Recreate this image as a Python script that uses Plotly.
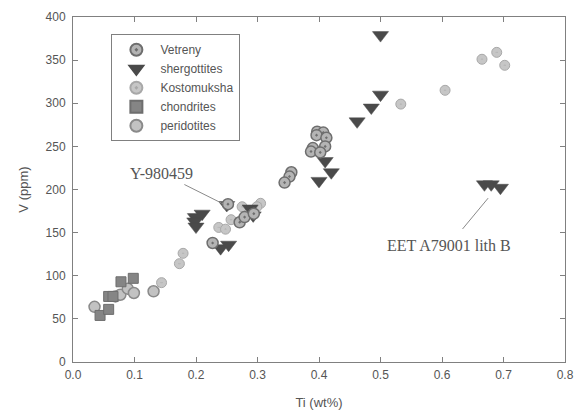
import plotly.graph_objects as go

# Vetreny
vet_ti = [0.397, 0.407, 0.396, 0.412, 0.410, 0.390, 0.387, 0.402, 0.355, 0.352, 0.344,
          0.227, 0.252, 0.271, 0.279, 0.294]
vet_v = [267, 266, 263, 260, 250, 248, 244, 243, 220, 215, 208,
         138, 183, 162, 168, 172]
# shergottites
she_ti = [0.500, 0.500, 0.485, 0.462, 0.410, 0.420, 0.400, 0.669, 0.680, 0.695,
          0.199, 0.210, 0.198, 0.200, 0.240, 0.253, 0.250, 0.293, 0.288]
she_v = [379, 310, 295, 279, 233, 220, 210, 206, 206, 202,
         168, 172, 163, 157, 132, 136, 182, 170, 178]
# Kostomuksha
kos_ti = [0.665, 0.689, 0.702, 0.605, 0.533, 0.144, 0.173, 0.179, 0.237, 0.248,
          0.257, 0.275, 0.305, 0.299]
kos_v = [351, 359, 344, 315, 299, 92, 114, 126, 156, 154,
         165, 180, 184, 180]
# chondrites
cho_ti = [0.044, 0.058, 0.058, 0.065, 0.078, 0.098]
cho_v = [54, 61, 76, 76, 93, 97]
# peridotites
per_ti = [0.035, 0.069, 0.077, 0.089, 0.099, 0.131]
per_v = [64, 76, 78, 85, 80, 82]

x_ticks = [0.0, 0.1, 0.2, 0.3, 0.4, 0.5, 0.6, 0.7, 0.8]
x_labels = ["0.0", "0.1", "0.2", "0.3", "0.4", "0.5", "0.6", "0.7", "0.8"]
y_ticks = [0, 50, 100, 150, 200, 250, 300, 350, 400]

fig = go.Figure()
fig.add_trace(go.Scatter(x=per_ti, y=per_v, mode="markers", name="peridotites",
                         marker=dict(symbol="circle", size=11, color="#c2c2c2",
                                     line=dict(color="#8a8a8a", width=1.5))))
fig.add_trace(go.Scatter(x=cho_ti, y=cho_v, mode="markers", name="chondrites",
                         marker=dict(symbol="square", size=10, color="#858585",
                                     line=dict(color="#6e6e6e", width=1))))
fig.add_trace(go.Scatter(x=kos_ti, y=kos_v, mode="markers", name="Kostomuksha",
                         marker=dict(symbol="circle-dot", size=10, color="#c6c6c6",
                                     line=dict(color="#a8a8a8", width=1))))
fig.add_trace(go.Scatter(x=she_ti, y=she_v, mode="markers", name="shergottites",
                         marker=dict(symbol="triangle-down", size=14, color="#4a4a4a",
                                     line=dict(color="#4a4a4a", width=0.5))))
fig.add_trace(go.Scatter(x=vet_ti, y=vet_v, mode="markers", name="Vetreny",
                         marker=dict(symbol="circle-dot", size=11, color="#b4b4b4",
                                     line=dict(color="#6e6e6e", width=1.5))))

axis_common = dict(showline=True, linecolor="#808080", linewidth=1, mirror="ticks",
                   ticks="inside", ticklen=5, tickcolor="#808080", showgrid=False,
                   zeroline=False, automargin=False,
                   tickfont=dict(family="Arial, Liberation Sans", size=12, color="#555555"))

fig.update_layout(
    width=574, height=412,
    margin=dict(l=73, r=9, t=17, b=50),
    paper_bgcolor="white", plot_bgcolor="white",
    font=dict(family="Arial, Liberation Sans", color="#555555"),
    xaxis=dict(range=[0, 0.8], tickvals=x_ticks, ticktext=x_labels, ticklabelstandoff=2,
               title=dict(text="Ti (wt%)", font=dict(size=13, color="#555555"), standoff=16),
               **axis_common),
    yaxis=dict(range=[0, 400], tickvals=y_ticks, ticklabelstandoff=4,
               title=dict(text="V (ppm)", font=dict(size=13, color="#555555"), standoff=14),
               **axis_common),
    legend=dict(x=0.078, y=0.95, xanchor="left", yanchor="top",
                traceorder="reversed", bordercolor="#808080", borderwidth=1,
                bgcolor="white", font=dict(size=12, color="#555555"),
                itemsizing="constant", tracegroupgap=0, itemwidth=38),
    showlegend=True,
)

fig.add_annotation(x=0.245, y=183, text="Y-980459", showarrow=True, arrowhead=0,
                   arrowwidth=1, arrowcolor="#8a8a8a", ax=-62, ay=-31, startstandoff=3,
                   font=dict(family="Times New Roman, Liberation Serif", size=16, color="#555555"))
fig.add_annotation(x=0.675, y=190, text="EET A79001 lith B", showarrow=True, arrowhead=0,
                   arrowwidth=1, arrowcolor="#8a8a8a", ax=-39, ay=47, startstandoff=8,
                   font=dict(family="Times New Roman, Liberation Serif", size=16, color="#555555"))

fig.write_html("out.html")
